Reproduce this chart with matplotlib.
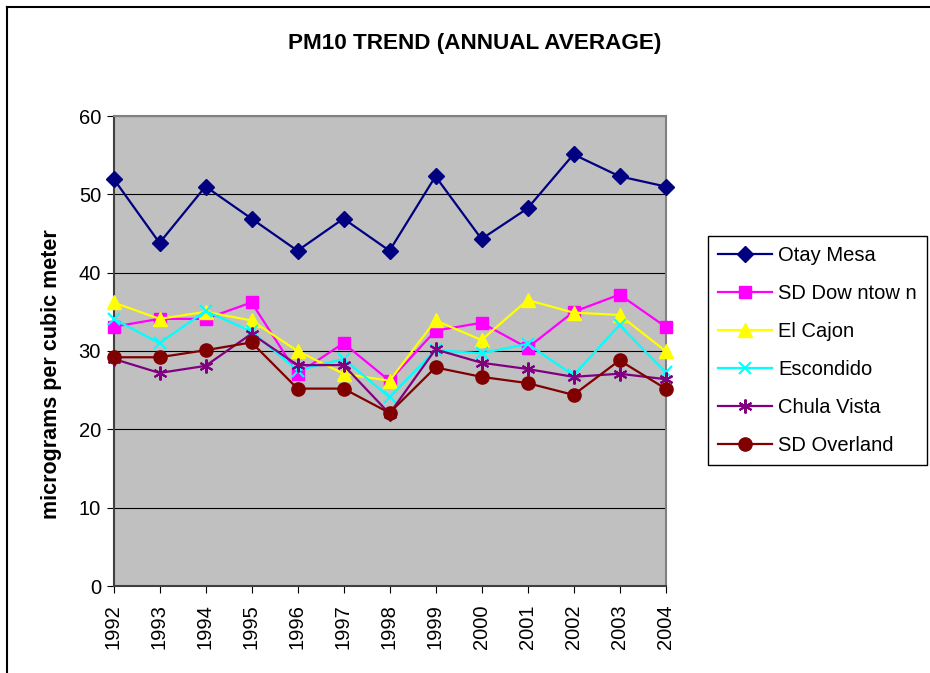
import matplotlib.pyplot as plt
from matplotlib.lines import Line2D

years = [1992, 1993, 1994, 1995, 1996, 1997, 1998, 1999, 2000, 2001, 2002, 2003, 2004]

otay_mesa = [52.0, 43.8, 51.0, 46.9, 42.8, 46.9, 42.8, 52.3, 44.3, 48.2, 55.1, 52.3, 51.0]
sd_downtown = [33.1, 34.1, 34.1, 36.2, 27.1, 31.0, 26.2, 32.6, 33.6, 30.4, 35.0, 37.2, 33.1]
el_cajon = [36.2, 34.1, 35.0, 33.9, 30.0, 27.1, 26.2, 33.9, 31.4, 36.5, 34.9, 34.6, 30.0]
escondido = [34.1, 31.0, 35.1, 32.5, 27.5, 29.0, 24.1, 30.1, 29.7, 30.9, 26.9, 33.3, 27.3]
chula_vista = [29.0, 27.2, 28.1, 32.2, 28.2, 28.2, 22.0, 30.2, 28.5, 27.7, 26.7, 27.1, 26.4]
sd_overland = [29.2, 29.2, 30.1, 31.1, 25.2, 25.2, 22.1, 27.9, 26.7, 25.9, 24.4, 28.8, 25.2]

series = [
    ("Otay Mesa", otay_mesa, "#000080", "D", 8.5),
    ("SD Dow ntow n", sd_downtown, "#FF00FF", "s", 9),
    ("El Cajon", el_cajon, "#FFFF00", "^", 10),
    ("Escondido", escondido, "#00FFFF", "x", 9),
    ("Chula Vista", chula_vista, "#800080", (6, 2, 0), 10),
    ("SD Overland", sd_overland, "#800000", "o", 9.5),
]

plt.rcParams["font.family"] = ["Liberation Sans", "DejaVu Sans"]

fig = plt.figure(figsize=(9.3, 6.73), dpi=100)
ax = fig.add_axes([113.5 / 930, 1 - 586 / 673, 552 / 930, 470 / 673])
ax.set_facecolor("#C0C0C0")

for name, vals, color, marker, ms in series:
    mew = 1.5 if marker in ("x", (6, 2, 0)) else 1
    ax.plot(years, vals, color=color, lw=1.6, marker=marker, ms=ms,
            mfc=color, mec=color, mew=mew, label=name, clip_on=False, zorder=3)

ax.set_xlim(1992, 2004)
ax.set_ylim(0, 60)
ax.set_xticks(years)
ax.set_xticklabels([str(y) for y in years], rotation=90, fontsize=14.5)
ax.set_yticks(range(0, 61, 10))
ax.tick_params(axis="y", labelsize=14.5, length=5, pad=4, direction="out")
ax.tick_params(axis="x", length=5, pad=8, direction="out")
ax.yaxis.grid(True, color="black", lw=0.8)
ax.set_axisbelow(True)

for s in ("left", "bottom"):
    ax.spines[s].set_color("#404040")
    ax.spines[s].set_linewidth(1.5)
for s in ("top", "right"):
    ax.spines[s].set_color("#808080")
    ax.spines[s].set_linewidth(1.5)

ax.set_ylabel("micrograms per cubic meter", fontsize=15.5, fontweight="bold")
ax.yaxis.set_label_coords(-0.093, 0.45)

fig.text(475 / 930, 1 - 43 / 673, "PM10 TREND (ANNUAL AVERAGE)",
         fontsize=16.2, fontweight="bold", ha="center", va="center")

leg = fig.legend(loc="upper left", bbox_to_anchor=(708 / 930, 1 - 236 / 673),
                 fontsize=14.5, frameon=True, fancybox=False, framealpha=1,
                 edgecolor="black", handlelength=2.7, handletextpad=0.3,
                 labelspacing=0.94, borderpad=0.5, borderaxespad=0)
leg.get_frame().set_linewidth(1)

# outer chart border (top and left edges visible)
fig.add_artist(Line2D([7 / 930, 1], [1 - 6.5 / 673, 1 - 6.5 / 673], color="black", lw=1.5))
fig.add_artist(Line2D([7 / 930, 7 / 930], [0, 1 - 6.5 / 673], color="black", lw=1.5))

fig.savefig("out.png", dpi=100)
